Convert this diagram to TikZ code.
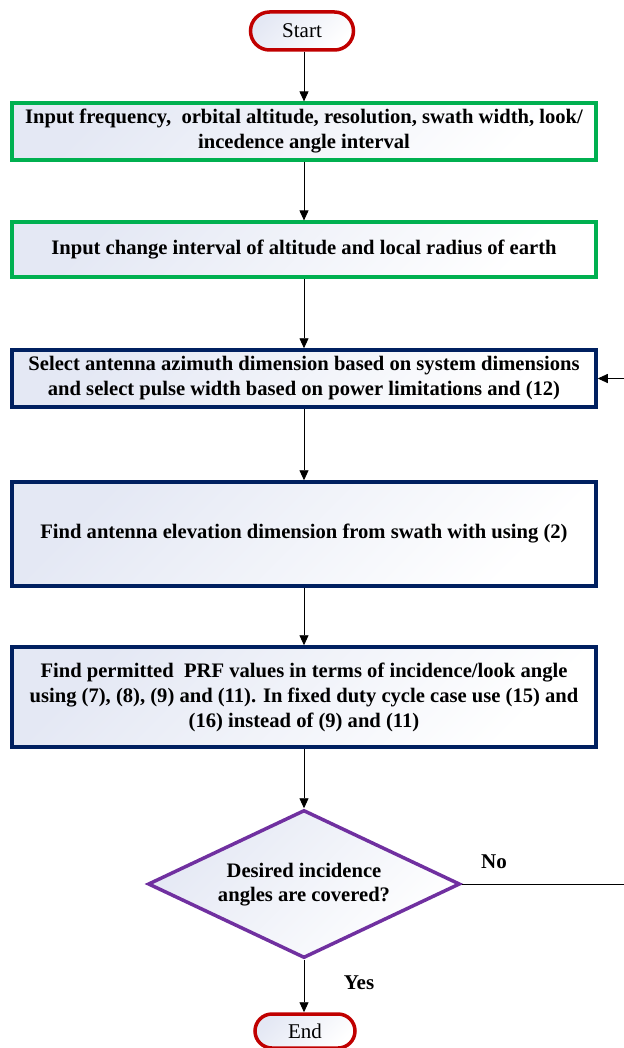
\documentclass[tikz,border=0pt]{standalone}
\usepackage{fontspec}
\setmainfont{Liberation Serif}
\usetikzlibrary{arrows.meta,shapes.misc,shapes.geometric}
\definecolor{cred}{HTML}{C00000}
\definecolor{cgreen}{HTML}{00B050}
\definecolor{cnavy}{HTML}{002060}
\definecolor{cpurple}{HTML}{7030A0}
\definecolor{cfill}{HTML}{E4E8F4}
\tikzset{
  shadefill/.style={top color=cfill, bottom color=white, shading angle=45},
  termbox/.style={rounded rectangle, draw=cred, line width=3.5pt, shadefill,
    font=\fontsize{21}{24}\selectfont, inner sep=0pt},
  greenbox/.style={rectangle, draw=cgreen, line width=3.2pt, shadefill,
    minimum width=584pt, align=center, inner sep=0pt,
    font=\bfseries\fontsize{20.6}{25}\selectfont},
  navybox/.style={greenbox, draw=cnavy, line width=3.5pt},
  decbox/.style={diamond, draw=cpurple, line width=3.5pt, shadefill,
    minimum width=312pt, minimum height=148pt, inner sep=0pt},
  dectext/.style={align=center, inner sep=0pt,
    font=\bfseries\fontsize{20.6}{24}\selectfont},
  lbl/.style={font=\bfseries\fontsize{21}{24}\selectfont},
  arr/.style={-{Triangle[length=10pt,width=9pt]}, line width=0.9pt, black},
}
\begin{document}
\begin{tikzpicture}[x=1pt,y=-1pt]
\useasboundingbox (0,0) rectangle (623,1048);
\node[termbox, minimum width=103pt, minimum height=38pt] (start) at (302,31) {Start};
\node[greenbox, minimum height=57pt] (b1) at (304,131.5)
  {Input frequency,\ \ orbital altitude, resolution, swath width, look/\\ incedence angle interval};
\node[greenbox, minimum height=55pt] (b2) at (304,249.5)
  {Input change interval of altitude and local radius of earth};
\node[navybox, minimum height=57pt] (b3) at (304,378.5)
  {Select antenna azimuth dimension based on system dimensions\\ and select pulse width based on power limitations and (12)};
\node[navybox, minimum height=104pt] (b4) at (304,534)
  {Find antenna elevation dimension from swath with using (2)};
\node[navybox, minimum height=100pt] (b5) at (304,697)
  {Find permitted\ \ PRF values in terms of incidence/look angle\\ using (7), (8), (9) and (11). In fixed duty cycle case use (15) and\\ (16) instead of (9) and (11)};
\node[decbox] (dec) at (304,884) {};
\node[dectext] (dect) at (304,885) {Desired incidence\\ angles are covered?};
\node[termbox, minimum width=100pt, minimum height=34pt] (end) at (305,1031) {End};
\node[lbl] (no) at (494,862) {No};
\node[lbl] (yes) at (359,983) {Yes};
\coordinate (fb) at (625.5,884);
\draw[arr] (start.south -| b1.north) -- (b1.north);
\draw[arr] (b1) -- (b2);
\draw[arr] (b2) -- (b3);
\draw[arr] (b3) -- (b4);
\draw[arr] (b4) -- (b5);
\draw[arr] (b5) -- (dec);
\draw[arr] (dec) -- (end.north -| dec.south);
\draw[arr] (dec.east) -- (fb) |- (b3.east);
\end{tikzpicture}
\end{document}
